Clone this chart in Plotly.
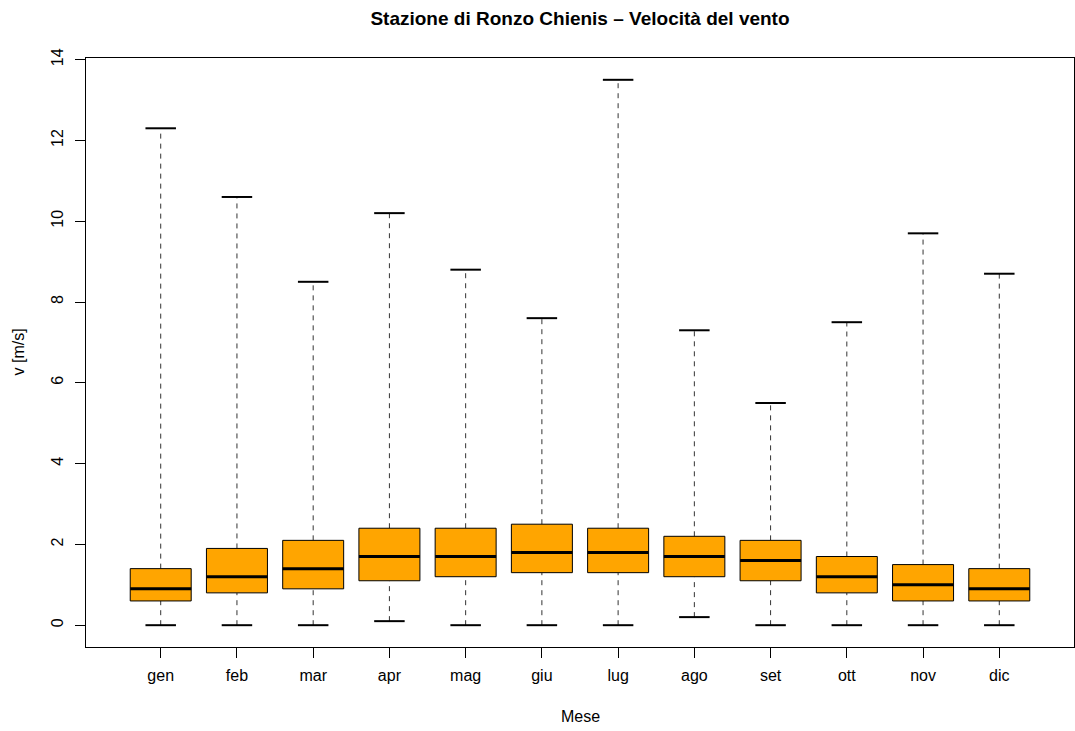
import plotly.graph_objects as go

months = ["gen", "feb", "mar", "apr", "mag", "giu", "lug", "ago", "set", "ott", "nov", "dic"]
v_min = [0.0, 0.0, 0.0, 0.1, 0.0, 0.0, 0.0, 0.2, 0.0, 0.0, 0.0, 0.0]
v_q1 = [0.6, 0.8, 0.9, 1.1, 1.2, 1.3, 1.3, 1.2, 1.1, 0.8, 0.6, 0.6]
v_med = [0.9, 1.2, 1.4, 1.7, 1.7, 1.8, 1.8, 1.7, 1.6, 1.2, 1.0, 0.9]
v_q3 = [1.4, 1.9, 2.1, 2.4, 2.4, 2.5, 2.4, 2.2, 2.1, 1.7, 1.5, 1.4]
v_max = [12.3, 10.6, 8.5, 10.2, 8.8, 7.6, 13.5, 7.3, 5.5, 7.5, 9.7, 8.7]
y_ticks = [0, 2, 4, 6, 8, 10, 12, 14]

FONT = "Liberation Sans, Arial, sans-serif"
BW = 0.4   # half box width
CW = 0.2   # half cap width

pos = list(range(1, len(months) + 1))

wx, wy, bx, by, mx, my, cx, cy = [], [], [], [], [], [], [], []
for p, lo, q1, md, q3, hi in zip(pos, v_min, v_q1, v_med, v_q3, v_max):
    wx += [p, p, None, p, p, None]
    wy += [q3, hi, None, lo, q1, None]
    bx += [p - BW, p + BW, p + BW, p - BW, p - BW, None]
    by += [q1, q1, q3, q3, q1, None]
    mx += [p - BW, p + BW, None]
    my += [md, md, None]
    cx += [p - CW, p + CW, None, p - CW, p + CW, None]
    cy += [hi, hi, None, lo, lo, None]

fig = go.Figure()
fig.add_trace(go.Scatter(x=wx, y=wy, mode="lines",
                         line=dict(color="#333333", width=1, dash="5px,5px"),
                         hoverinfo="skip", showlegend=False))
fig.add_trace(go.Scatter(x=bx, y=by, mode="lines", fill="toself",
                         fillcolor="#FFA500", line=dict(color="black", width=1),
                         hoverinfo="skip", showlegend=False))
fig.add_trace(go.Scatter(x=mx, y=my, mode="lines",
                         line=dict(color="black", width=3),
                         hoverinfo="skip", showlegend=False))
fig.add_trace(go.Scatter(x=cx, y=cy, mode="lines",
                         line=dict(color="black", width=2),
                         hoverinfo="skip", showlegend=False))

fig.update_layout(
    width=1075, height=731,
    margin=dict(l=86, r=1, t=58, b=84),
    paper_bgcolor="white", plot_bgcolor="white",
    font=dict(family=FONT, size=16, color="black"),
    title=dict(text="<b>Stazione di Ronzo Chienis – Velocità del vento</b>",
               x=(86 + 1074) / 2 / 1075, xanchor="center",
               y=1 - 18 / 731, yanchor="middle",
               font=dict(family=FONT, size=19, color="black")),
    xaxis=dict(range=[0.02, len(months) + 0.98], tickvals=pos, ticktext=months,
               showgrid=False, zeroline=False, showline=True, mirror=True,
               linecolor="black", linewidth=1, ticks="outside", ticklen=10,
               tickcolor="black", tickfont=dict(size=16), ticklabelstandoff=4),
    yaxis=dict(range=[-0.54, 14.04], tickvals=y_ticks,
               ticktext=[str(t) for t in y_ticks], tickangle=-90,
               showgrid=False, zeroline=False, showline=True, mirror=True,
               linecolor="black", linewidth=1, ticks="outside", ticklen=10,
               tickcolor="black", tickfont=dict(size=16), ticklabelstandoff=6),
    annotations=[
        dict(text="Mese", xref="paper", yref="paper", x=0.5, y=0, yshift=-69,
             xanchor="center", yanchor="middle", showarrow=False,
             font=dict(family=FONT, size=16)),
        dict(text="v [m/s]", xref="paper", yref="paper", x=0, y=0.5, xshift=-68,
             xanchor="center", yanchor="middle", textangle=-90, showarrow=False,
             font=dict(family=FONT, size=16)),
    ],
)

fig.write_html("out.html", config={"displayModeBar": False},
               post_script="document.body.style.margin='0';document.body.style.padding='0';")
